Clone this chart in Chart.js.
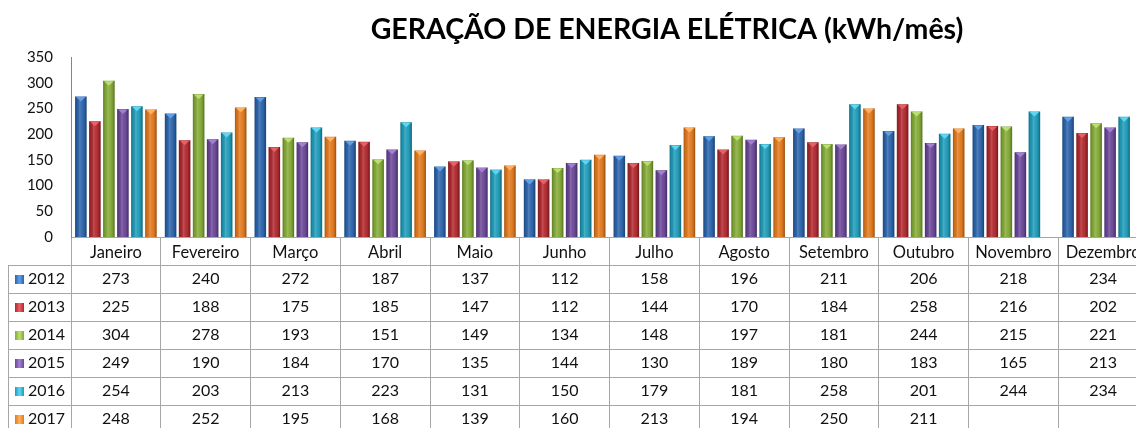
<!DOCTYPE html>
<html><head><meta charset="utf-8">
<script src="https://cdn.jsdelivr.net/npm/chart.js@4/dist/chart.umd.min.js"></script>
<style>
html,body{margin:0;padding:0;overflow:hidden;background:#fff;width:1136px;height:428px}
#wrap{position:absolute;left:0;top:0;width:1334px;height:428px}
</style>
</head><body><div id="wrap"><canvas id="c" width="1334" height="428"></canvas></div>
<script>
const chartTitle = 'GERAÇÃO DE ENERGIA ELÉTRICA (kWh/mês)';
const months = ['Janeiro','Fevereiro','Março','Abril','Maio','Junho','Julho','Agosto','Setembro','Outubro','Novembro','Dezembro'];
const years = ['2012','2013','2014','2015','2016','2017'];
const v2012 = [273,240,272,187,137,112,158,196,211,206,218,234];
const v2013 = [225,188,175,185,147,112,144,170,184,258,216,202];
const v2014 = [304,278,193,151,149,134,148,197,181,244,215,221];
const v2015 = [249,190,184,170,135,144,130,189,180,183,165,213];
const v2016 = [254,203,213,223,131,150,179,181,258,201,244,234];
const v2017 = [248,252,195,168,139,160,213,194,250,211,null,null];
const yTickValues = [0,50,100,150,200,250,300,350];
const seriesColors = ['#2A63AB','#B0282D','#83AA35','#6A4697','#1E9BB9','#E2791C'];
const capColors = ['#5FA0E8','#E86065','#B9E070','#A27FD0','#5FD6F2','#FFB060'];

const allValues = [v2012,v2013,v2014,v2015,v2016,v2017];
const FONT = 'Lato';

const tablePlugin = {
  id: 'tablePlugin',
  afterLayout(chart) {
    // the original chart's title is centred over the full (cropped) chart width
    const t = chart.titleBlock;
    if (t) { t.left = 186; t.right = chart.chartArea.right; t.width = t.right - t.left; }
  },
  afterDatasetsDraw(chart) {
    const ctx = chart.ctx;
    chart.data.datasets.forEach((ds, di) => {
      const meta = chart.getDatasetMeta(di);
      meta.data.forEach((bar, i) => {
        if (ds.data[i] == null) return;
        const w = bar.width, x0 = bar.x - w/2, top = bar.y, bot = bar.base;
        const g = ctx.createLinearGradient(x0, 0, x0 + w, 0);
        g.addColorStop(0, 'rgba(0,0,0,0.28)');
        g.addColorStop(0.18, 'rgba(0,0,0,0.05)');
        g.addColorStop(0.4, 'rgba(255,255,255,0.18)');
        g.addColorStop(0.6, 'rgba(255,255,255,0.05)');
        g.addColorStop(0.85, 'rgba(0,0,0,0.12)');
        g.addColorStop(1, 'rgba(0,0,0,0.35)');
        ctx.save();
        ctx.fillStyle = g;
        ctx.fillRect(x0, top, w, bot - top);
        ctx.fillStyle = capColors[di];
        ctx.beginPath();
        ctx.moveTo(x0 + 1, top + 0.5);
        ctx.lineTo(x0 + w - 1, top + 0.5);
        ctx.lineTo(bar.x, top + 5);
        ctx.closePath();
        ctx.fill();
        ctx.restore();
      });
    });
  },
  afterDraw(chart) {
    const ctx = chart.ctx;
    const xs = chart.scales.x;
    const area = chart.chartArea;
    const top0 = area.bottom;
    const rowH = 28;
    const right = area.right;
    ctx.save();
    ctx.strokeStyle = '#a6a6a6';
    ctx.lineWidth = 1;
    ctx.beginPath();
    for (let r = 1; r <= years.length + 1; r++) {
      const y = Math.round(top0 + r * rowH) + 0.5;
      ctx.moveTo(8, y); ctx.lineTo(right, y);
    }
    ctx.moveTo(8.5, top0 + rowH); ctx.lineTo(8.5, 428);
    ctx.stroke();
    ctx.font = '16px ' + FONT;
    ctx.fillStyle = '#111';
    ctx.textBaseline = 'middle';
    years.forEach((yr, r) => {
      const cy = top0 + rowH * (r + 1) + rowH / 2;
      const sq = 9;
      const sx = 15, sy = Math.round(cy - sq / 2);
      const g = ctx.createLinearGradient(sx, 0, sx + sq, 0);
      g.addColorStop(0, seriesColors[r]);
      g.addColorStop(0.5, capColors[r]);
      g.addColorStop(1, seriesColors[r]);
      ctx.fillStyle = g;
      ctx.fillRect(sx, sy, sq, sq);
      ctx.fillStyle = '#111';
      ctx.textAlign = 'left';
      ctx.fillText(yr, 28, cy);
      ctx.textAlign = 'center';
      allValues[r].forEach((v, i) => {
        if (v == null) return;
        ctx.fillText(String(v), xs.getPixelForValue(i), cy);
      });
    });
    ctx.restore();
  }
};

new Chart(document.getElementById('c'), {
  type: 'bar',
  data: {
    labels: months,
    datasets: years.map((yr, i) => ({
      label: yr,
      data: allValues[i],
      backgroundColor: seriesColors[i],
      borderWidth: 0,
      categoryPercentage: 0.937,
      barPercentage: 0.82
    }))
  },
  options: {
    responsive: false,
    animation: false,
    devicePixelRatio: 1,
    layout: { padding: { left: 0, right: 186, top: 0, bottom: 0 } },
    plugins: {
      legend: { display: false },
      tooltip: { enabled: false },
      title: {
        display: true,
        text: chartTitle,
        color: '#000',
        font: { family: FONT, size: 28.5, weight: 'bold', lineHeight: 1.2 },
        padding: { top: 13, bottom: 9.8 }
      }
    },
    scales: {
      x: {
        offset: true,
        grid: { offset: true, drawOnChartArea: false, drawTicks: true, tickLength: 196, color: '#a6a6a6', lineWidth: 1 },
        border: { display: true, color: '#a6a6a6' },
        ticks: { padding: -190, font: { family: FONT, size: 16.5 }, color: '#111', maxRotation: 0, autoSkip: false },
        afterFit: s => { s.height = 191; }
      },
      y: {
        min: 0, max: 350,
        afterBuildTicks: s => { s.ticks = yTickValues.map(v => ({ value: v })); },
        grid: { display: false, drawTicks: false },
        border: { display: true, color: '#868686' },
        ticks: { padding: 18, font: { family: FONT, size: 15 }, color: '#111' },
        afterFit: s => { s.width = 71; }
      }
    }
  },
  plugins: [tablePlugin]
});
</script>
</body></html>
